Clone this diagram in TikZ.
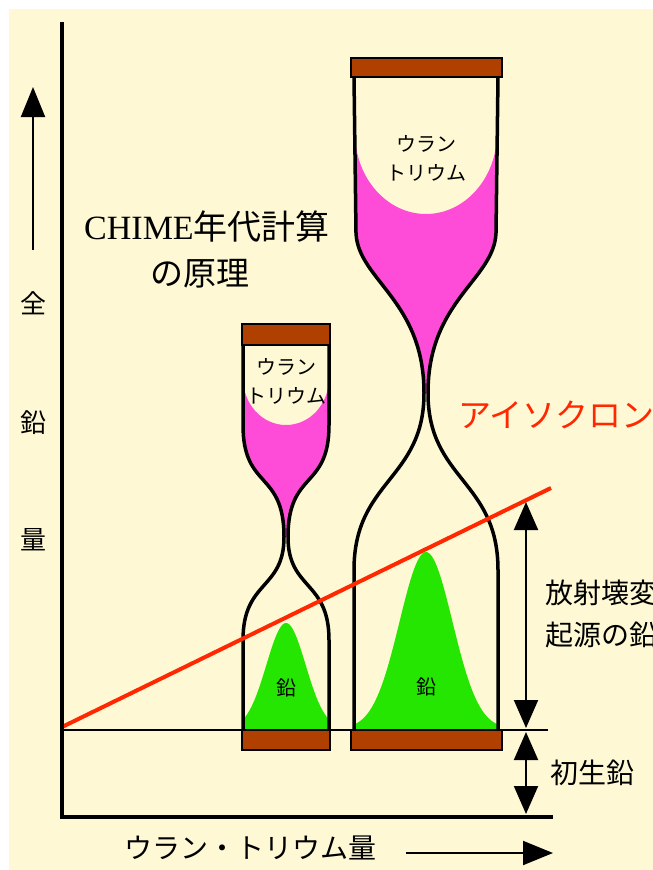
\documentclass[tikz,border=0pt]{standalone}
\usepackage{fontspec}
\setmainfont{Liberation Serif}
\newfontfamily\jp{Noto Sans CJK JP}
\usepackage{tikz}
\usetikzlibrary{arrows.meta}

\definecolor{fondo}{RGB}{254,249,212}
\definecolor{tapa}{RGB}{176,64,0}
\definecolor{uranio}{RGB}{255,76,216}
\definecolor{plomo}{RGB}{36,230,0}
\definecolor{isocrona}{RGB}{255,40,0}

\tikzset{
  vidrio/.style={line width=3.5pt, black},
  tapabox/.style={fill=tapa, draw=black, line width=2pt},
  flecha/.style={line width=2pt, -{Triangle[length=30pt,width=24pt]}},
  dobleflecha/.style={line width=2pt, {Triangle[length=28pt,width=24pt]}-{Triangle[length=28pt,width=24pt]}},
  rotulo/.style={font=\jp\fontsize{28}{32}\selectfont, inner sep=0pt},
  rotulochico/.style={font=\jp\fontsize{20}{24}\selectfont, inner sep=0pt},
}

\begin{document}
\begin{tikzpicture}[x=1pt, y=-1pt]
    % Fondo
    \clip (0,0) rectangle (653,870);
    \fill[white] (0,0) rectangle (653,870);
    \fill[fondo] (9,9) rectangle (653,870);

    % Plomo (campanas verdes)
    \fill[plomo] (244,729) -- plot[domain=-1:1, samples=60] ({286+42*\x}, {729-106*exp(-2.3*(\x)*(\x))}) -- (328,729) -- cycle;
    \fill[plomo] (355,729) -- plot[domain=-1:1, samples=60] ({426+71*\x}, {729-177*exp(-3.6*(\x)*(\x))}) -- (497,729) -- cycle;

    % Uranio-torio (parte superior)
    \fill[uranio] (243,378) -- (243,425) .. controls (243,490) and (284,470) .. (284,537)
        -- (288,537) .. controls (288,470) and (329,490) .. (329,425) -- (329,378)
        .. controls (329,404) and (310,425) .. (286,425)
        .. controls (262,425) and (243,404) .. (243,378) -- cycle;
    \fill[uranio] (355,133) -- (356,233) .. controls (358,280) and (424,300) .. (424,393)
        -- (428,393) .. controls (428,300) and (494,280) .. (496,233) -- (497,133)
        .. controls (497,178) and (465,214) .. (426,214)
        .. controls (387,214) and (355,178) .. (355,133) -- cycle;

    % Relojes de arena
    \draw[vidrio] (243,345) -- (243,425) .. controls (243,490) and (284,470) .. (284,537)
        .. controls (284,590) and (243,580) .. (243,640) -- (243,729);
    \draw[vidrio] (329,345) -- (329,425) .. controls (329,490) and (288,470) .. (288,537)
        .. controls (288,590) and (329,580) .. (329,640) -- (329,729);
    \draw[vidrio] (354,77) -- (356,233) .. controls (358,280) and (424,300) .. (424,393)
        .. controls (424,480) and (354,480) .. (354,570) -- (354,729);
    \draw[vidrio] (498,77) -- (496,233) .. controls (494,280) and (428,300) .. (428,393)
        .. controls (428,480) and (498,480) .. (498,570) -- (498,729);

    % Linea base
    \coordinate (B0) at (62,730);
    \coordinate (B1) at (548,730);
    \draw[line width=1.5pt] (B0) -- (B1);

    % Tapas
    \draw[tapabox] (242,324) rectangle (330,345);
    \draw[tapabox] (242,730) rectangle (330,750);
    \draw[tapabox] (351,58) rectangle (502,77);
    \draw[tapabox] (351,730) rectangle (502,750);

    % Isocrona
    \coordinate (I0) at (62,727);
    \coordinate (I1) at (551,488);
    \draw[isocrona, line width=4pt] (I0) -- (I1);

    % Ejes
    \coordinate (O) at (62,817);
    \coordinate (Ytop) at (62,22);
    \coordinate (Xend) at (553,817);
    \draw[line width=4pt] (Ytop) -- (O) -- (Xend);

    % Flechas
    \coordinate (Pb0) at (33,250);
    \coordinate (Pb1) at (33,87);
    \draw[flecha] (Pb0) -- (Pb1);
    \coordinate (U0) at (406,853);
    \coordinate (U1) at (553,853);
    \draw[flecha] (U0) -- (U1);
    \coordinate (R0) at (526,502);
    \coordinate (R1) at (526,728);
    \draw[dobleflecha] (R0) -- (R1);
    \coordinate (P0) at (526,732);
    \coordinate (P1) at (526,814);
    \draw[dobleflecha] (P0) -- (P1);

    % Etiquetas
    \node[font=\jp\fontsize{26}{30}\selectfont] (zen) at (33,303) {全};
    \node[font=\jp\fontsize{26}{30}\selectfont] (en) at (33,423) {鉛};
    \node[font=\jp\fontsize{26}{30}\selectfont] (ryo) at (33,540) {量};
    \node[font=\fontsize{34}{40}\selectfont, inner sep=0pt] (titulo1) at (207,227) {CHIME{\jp 年代計算}};
    \node[font=\jp\fontsize{33}{40}\selectfont, inner sep=0pt] (titulo2) at (200,274) {の原理};
    \node[rotulochico] (u1a) at (286,367) {ウラン};
    \node[rotulochico] (u1b) at (286,396) {トリウム};
    \node[rotulochico] (u2a) at (426,144) {ウラン};
    \node[rotulochico] (u2b) at (426,173) {トリウム};
    \node[rotulochico] (pb1) at (286,688) {鉛};
    \node[rotulochico] (pb2) at (426,687) {鉛};
    \node[font=\jp\fontsize{33}{38}\selectfont, text=isocrona, anchor=west, inner sep=0pt] (iso) at (458,415) {アイソクロン};
    \node[rotulo, anchor=west] (rad1) at (545,593) {放射壊変};
    \node[rotulo, anchor=west] (rad2) at (545,635) {起源の鉛};
    \node[rotulo, anchor=west] (ini) at (550,773) {初生鉛};
    \node[rotulo] (ejex) at (250,848) {ウラン・トリウム量};
\end{tikzpicture}
\end{document}
